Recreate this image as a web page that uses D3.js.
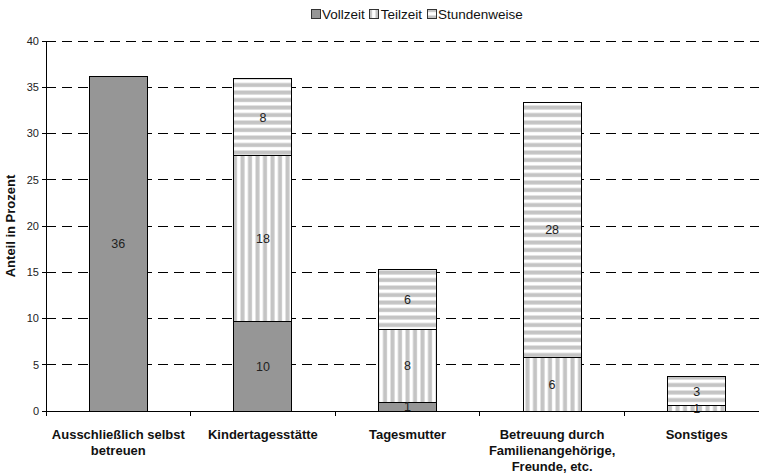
<!DOCTYPE html>
<html><head><meta charset="utf-8">
<script src="https://cdn.jsdelivr.net/npm/d3@7/dist/d3.min.js"></script>
<style>body{margin:0;background:#fff} svg{display:block;font-family:"Liberation Sans",Arial,sans-serif}</style>
</head><body><svg id="c" width="759" height="474"></svg>
<script>
const categories = ["Ausschließlich selbst\nbetreuen","Kindertagesstätte","Tagesmutter","Betreuung durch\nFamilienangehörige,\nFreunde, etc.","Sonstiges"];
const seriesNames = ["Vollzeit","Teilzeit","Stundenweise"];
const vollzeit = [36.2, 9.65, 0.95, 0, 0];
const teilzeit = [0, 17.95, 7.9, 5.8, 0.55];
const stundenweise = [0, 8.3, 6.4, 27.6, 3.15];
const yTicks = [0,5,10,15,20,25,30,35,40];
const yTitle = "Anteil in Prozent";

const svg = d3.select("#c");
const L = 46, R = 769, T = 41, B = 411;
const x = d3.scaleBand().domain(categories).range([L, R]).paddingInner(0.6).paddingOuter(0.3);
const y = d3.scaleLinear().domain([0, 40]).range([B, T]);

const defs = svg.append("defs");
const pv = defs.append("pattern").attr("id","pv").attr("patternUnits","userSpaceOnUse").attr("width",7.5).attr("height",10);
pv.append("rect").attr("width",7.5).attr("height",10).attr("fill","#fff");
pv.append("rect").attr("x",0.5).attr("width",4).attr("height",10).attr("fill","#c4c4c4");
const ph = defs.append("pattern").attr("id","ph").attr("patternUnits","userSpaceOnUse").attr("width",10).attr("height",7.5);
ph.append("rect").attr("width",10).attr("height",7.5).attr("fill","#fff");
ph.append("rect").attr("y",0.5).attr("width",10).attr("height",4).attr("fill","#c4c4c4");
const fills = ["#969696","url(#pv)","url(#ph)"];

// grid
svg.append("g").selectAll("line").data(yTicks.filter(d => d > 0)).join("line")
  .attr("x1", L).attr("x2", 759).attr("y1", d => y(d)).attr("y2", d => y(d))
  .attr("stroke","#000").attr("stroke-dasharray","10,6").attr("stroke-width",1).attr("shape-rendering","crispEdges");

// stacked bars
const rows = categories.map((c,i) => ({cat:c, Vollzeit:vollzeit[i], Teilzeit:teilzeit[i], Stundenweise:stundenweise[i]}));
const stack = d3.stack().keys(seriesNames)(rows);
stack.forEach((s, si) => {
  const g = svg.append("g");
  g.selectAll("rect").data(s.filter(d => d[1]-d[0] > 0)).join("rect")
    .attr("x", d => x(d.data.cat)).attr("width", x.bandwidth())
    .attr("y", d => y(d[1])).attr("height", d => y(d[0]) - y(d[1]))
    .attr("fill", fills[si]).attr("stroke","#000").attr("stroke-width",1).attr("shape-rendering","crispEdges");
});
stack.forEach((s, si) => {
  svg.append("g").selectAll("text").data(s.filter(d => d[1]-d[0] > 0)).join("text")
    .attr("x", d => x(d.data.cat) + x.bandwidth()/2)
    .attr("y", d => (y(d[0]) + y(d[1]))/2)
    .attr("dy","0.35em").attr("text-anchor","middle").attr("font-size",12.5).attr("fill","#222")
    .text(d => Math.round(d[1]-d[0]));
});

// axes
svg.append("line").attr("x1",L).attr("x2",L).attr("y1",T).attr("y2",B).attr("stroke","#000").attr("shape-rendering","crispEdges");
svg.append("line").attr("x1",L).attr("x2",759).attr("y1",B).attr("y2",B).attr("stroke","#000").attr("shape-rendering","crispEdges");
const yg = svg.append("g");
yg.selectAll("line").data(yTicks).join("line").attr("x1",L-4).attr("x2",L).attr("y1",d=>y(d)).attr("y2",d=>y(d)).attr("stroke","#000").attr("shape-rendering","crispEdges");
yg.selectAll("text").data(yTicks).join("text").attr("x",L-7).attr("y",d=>y(d)).attr("dy","0.35em")
  .attr("text-anchor","end").attr("font-size",11).attr("fill","#222").text(d=>d);
const step = x.step();
const bounds = categories.map(c => x(c) + x.bandwidth()/2 - step/2);
svg.append("g").selectAll("line").data(bounds).join("line").attr("x1",d=>d).attr("x2",d=>d).attr("y1",B).attr("y2",B+5).attr("stroke","#000").attr("shape-rendering","crispEdges");
const xl = svg.append("g").selectAll("text").data(categories).join("text")
  .attr("x", c => x(c) + x.bandwidth()/2).attr("y", 439)
  .attr("text-anchor","middle").attr("font-size",13).attr("font-weight","bold").attr("fill","#111");
xl.each(function(c){ const t = d3.select(this); c.split("\n").forEach((line,i)=>{ t.append("tspan").attr("x", x(c)+x.bandwidth()/2).attr("y", 439 + i*16).text(line); }); });
svg.append("text").attr("transform","translate(15,"+((T+B)/2)+") rotate(-90)").attr("text-anchor","middle")
  .attr("font-size",13).attr("font-weight","bold").attr("fill","#111").text(yTitle);

// legend
const lg = svg.append("g");
let lx = 311;
seriesNames.forEach((n,i) => {
  lg.append("rect").attr("x",lx).attr("y",9).attr("width",9).attr("height",9).attr("fill",fills[i]).attr("stroke","#333").attr("shape-rendering","crispEdges");
  const t = lg.append("text").attr("x",lx+11).attr("y",18.5).attr("font-size",13.5).attr("fill","#111").text(n);
  lx += 11 + t.node().getComputedTextLength() + 5;
});
</script></body></html>
